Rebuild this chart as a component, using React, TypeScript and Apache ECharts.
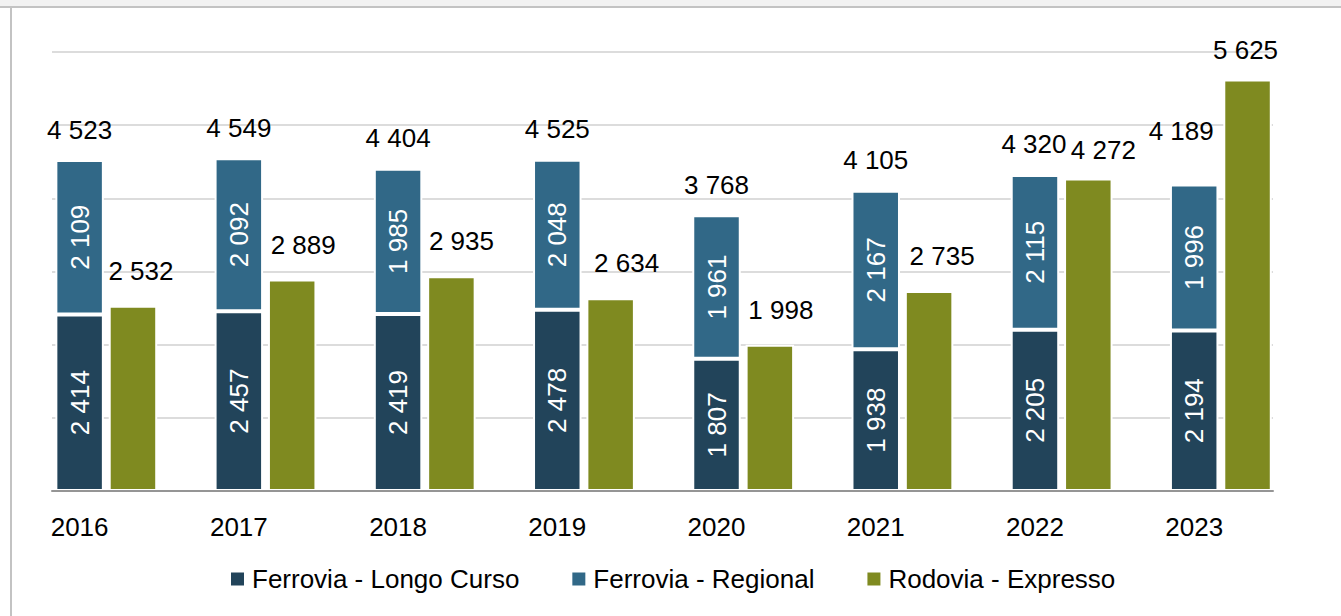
import React, { useEffect, useRef } from "react";
import * as echarts from "echarts";

const years = ["2016", "2017", "2018", "2019", "2020", "2021", "2022", "2023"];
const longoCurso = [2414, 2457, 2419, 2478, 1807, 1938, 2205, 2194];
const regional = [2109, 2092, 1985, 2048, 1961, 2167, 2115, 1996];
const expresso = [2532, 2889, 2935, 2634, 1998, 2735, 4272, 5625];
const totals = [4523, 4549, 4404, 4525, 3768, 4105, 4320, 4189];

// label nudges (layout only)
const expressoLabelOffset = [[8, 0], [11, 0], [10, 0], [16, 0], [11, 0], [13, 0], [15, 7], [-2, 6]];
const totalLabelOffset = [[0, 0], [0, 0], [0, 0], [0, 0], [0, 0], [0, 0], [-1, 0], [-13, -23]];

const C_LONGO = "#22445a";
const C_REG = "#316887";
const C_EXP = "#7f8a20";
const FONT = "'Liberation Sans', Arial, sans-serif";

const fmt = (v: number) => String(Math.round(v)).replace(/\B(?=(\d{3})+(?!\d))/g, " ");

const BW = 48.5;
const GAP = "10%";

export default function App() {
  const ref = useRef<HTMLDivElement>(null);
  useEffect(() => {
    if (!ref.current) return;
    const chart = echarts.init(ref.current, null, { renderer: "svg" });
    const barBorder = { borderColor: "#ffffff", borderWidth: 2 };
    chart.setOption({
      animation: false,
      backgroundColor: "#ffffff",
      textStyle: { fontFamily: FONT },
      graphic: [
        { type: "rect", shape: { x: 0, y: 0, width: 1341, height: 6 }, style: { fill: "#f2f2f2" }, silent: true },
        { type: "rect", shape: { x: 0, y: 6, width: 1341, height: 2 }, style: { fill: "#c3c3c3" }, silent: true },
        { type: "rect", shape: { x: 10, y: 8, width: 2, height: 608 }, style: { fill: "#c3c3c3" }, silent: true },
      ],
      legend: {
        data: ["Ferrovia - Longo Curso", "Ferrovia - Regional", "Rodovia - Expresso"],
        left: 226,
        top: 561,
        icon: "rect",
        itemWidth: 13,
        itemHeight: 13,
        itemGap: 53,
        itemStyle: { borderWidth: 0 },
        textStyle: { fontSize: 26, color: "#000", fontFamily: FONT, padding: [0, 0, 0, 3] },
      },
      grid: [
        { left: -1.4, width: 1275.2, top: 52, bottom: 125 },
        { left: 52, right: 68, top: 52, bottom: 125 },
      ],
      xAxis: [
        {
          type: "category",
          gridIndex: 0,
          data: years,
          axisLine: { show: false },
          axisTick: { show: false },
          splitLine: { show: false },
          axisLabel: { fontSize: 26, color: "#000", margin: 23, fontFamily: FONT },
        },
        {
          type: "value",
          gridIndex: 1,
          min: 0,
          max: 1,
          z: 5,
          axisLine: { show: true, lineStyle: { color: "#959595", width: 2 } },
          axisTick: { show: false },
          axisLabel: { show: false },
          splitLine: { show: false },
        },
      ],
      yAxis: [
        {
          type: "value",
          gridIndex: 0,
          min: 0,
          max: 6000,
          interval: 1000,
          axisLine: { show: false },
          axisTick: { show: false },
          axisLabel: { show: false },
          splitLine: { show: false },
        },
        {
          type: "value",
          gridIndex: 1,
          min: 0,
          max: 6000,
          interval: 1000,
          axisLine: { show: false },
          axisTick: { show: false },
          axisLabel: { show: false },
          splitLine: { show: true, lineStyle: { color: "#dcdcdc", width: 2 } },
        },
      ],
      series: [
        {
          name: "_pad",
          type: "bar",
          xAxisIndex: 0,
          yAxisIndex: 0,
          barWidth: BW,
          barGap: GAP,
          silent: true,
          data: years.map(() => 0),
          itemStyle: { color: "transparent", borderWidth: 0 },
          label: { show: false },
        },
        {
          name: "Ferrovia - Longo Curso",
          type: "bar",
          stack: "ferrovia",
          xAxisIndex: 0,
          yAxisIndex: 0,
          barWidth: BW,
          barGap: GAP,
          data: longoCurso,
          itemStyle: { color: C_LONGO, ...barBorder },
          label: {
            show: true,
            position: "inside",
            rotate: 90,
            color: "#ffffff",
            fontSize: 26,
            fontFamily: FONT,
            textBorderWidth: 0,
            formatter: (p: any) => fmt(p.value),
          },
        },
        {
          name: "Ferrovia - Regional",
          type: "bar",
          stack: "ferrovia",
          xAxisIndex: 0,
          yAxisIndex: 0,
          barWidth: BW,
          barGap: GAP,
          data: regional,
          itemStyle: { color: C_REG, ...barBorder },
          label: {
            show: true,
            position: "inside",
            rotate: 90,
            color: "#ffffff",
            fontSize: 26,
            fontFamily: FONT,
            textBorderWidth: 0,
            formatter: (p: any) => fmt(p.value),
          },
        },
        {
          name: "Rodovia - Expresso",
          type: "bar",
          xAxisIndex: 0,
          yAxisIndex: 0,
          barWidth: BW,
          barGap: GAP,
          data: expresso.map((v, i) => ({ value: v, label: { offset: expressoLabelOffset[i] } })),
          itemStyle: { color: C_EXP, ...barBorder },
          label: {
            show: true,
            position: "top",
            distance: 22,
            color: "#000000",
            fontSize: 26,
            fontFamily: FONT,
            textBorderWidth: 0,
            formatter: (p: any) => fmt(p.value),
          },
        },
        {
          name: "Total",
          type: "scatter",
          xAxisIndex: 0,
          yAxisIndex: 0,
          symbolSize: 1,
          silent: true,
          itemStyle: { color: "#ffffff", opacity: 1 },
          data: totals.map((v, i) => ({ value: v, label: { offset: totalLabelOffset[i] } })),
          label: {
            show: true,
            position: "top",
            distance: 17,
            color: "#000000",
            opacity: 1,
            fontSize: 26,
            fontFamily: FONT,
            textBorderWidth: 0,
            formatter: (p: any) => fmt(p.value),
          },
          z: 4,
        },
      ],
    });
    return () => chart.dispose();
  }, []);
  return (
    <div
      ref={ref}
      style={{ position: "fixed", left: 0, top: 0, width: 1341, height: 616 }}
    />
  );
}
